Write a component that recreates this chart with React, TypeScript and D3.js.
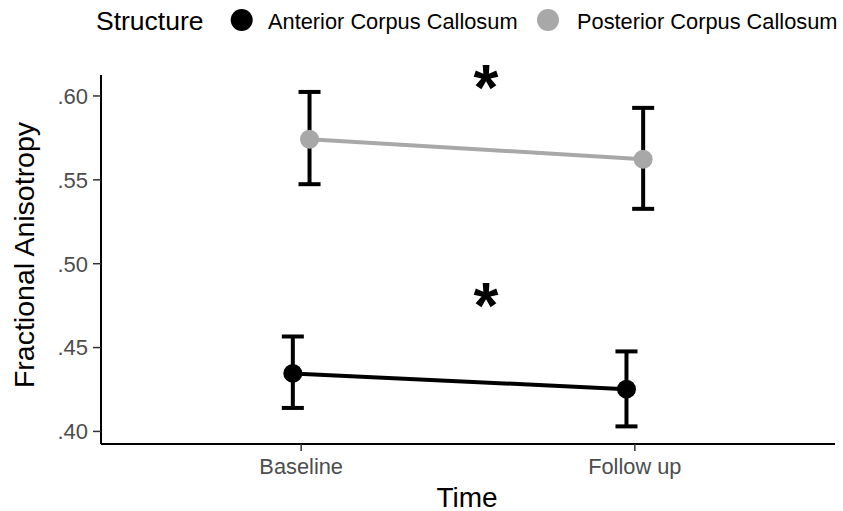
import React from "react";
import * as d3 from "d3";

// data
const times = ["Baseline", "Follow up"];
const structures = ["Anterior Corpus Callosum", "Posterior Corpus Callosum"];
const anteriorMean = [0.4346, 0.4252];
const anteriorLow = [0.414, 0.403];
const anteriorHigh = [0.4566, 0.4477];
const posteriorMean = [0.5742, 0.5623];
const posteriorLow = [0.5474, 0.5327];
const posteriorHigh = [0.6024, 0.5929];
const yTicks = [0.4, 0.45, 0.5, 0.55, 0.6];
const yTickLabels = [".40", ".45", ".50", ".55", ".60"];
// significance stars: position on time axis (1 = Baseline) and y value
const starPos = [1.554, 1.554];
const starY = [0.611, 0.481];

const W = 843, H = 511;
const margin = { top: 75, right: 8, bottom: 67, left: 101 };
const colors = ["#000000", "#a8a8a8"];
const font = "'Liberation Sans', Arial, sans-serif";

export default function App() {
  const x = d3.scalePoint().domain(times).range([margin.left, W - margin.right]).padding(0.6);
  const y = d3.scaleLinear().domain([0.3925, 0.6125]).range([H - margin.bottom, margin.top]);
  const step = x.step();
  const dodge = 0.025 * step;
  const capHalf = 0.033 * step;

  const series = [
    { name: structures[0], mean: anteriorMean, low: anteriorLow, high: anteriorHigh, color: colors[0], off: -dodge },
    { name: structures[1], mean: posteriorMean, low: posteriorLow, high: posteriorHigh, color: colors[1], off: dodge },
  ];

  const line = d3.line<number>()
    .x((_, i) => (x(times[i]) as number))
    .y((d) => y(d));

  const x0 = margin.left, x1 = W - margin.right;
  const yb = H - margin.bottom, yt = margin.top;

  return (
    <svg width={W} height={H} style={{ position: "absolute", left: 0, top: 0, background: "#fff" }} fontFamily={font}>
      {/* legend */}
      <text x={96} y={30} fontSize={26.5} fill="#000">Structure</text>
      <circle cx={241.7} cy={20} r={11} fill={colors[0]} />
      <text x={268} y={29} fontSize={21.8} fill="#000">{structures[0]}</text>
      <circle cx={548} cy={20} r={11} fill={colors[1]} />
      <text x={577} y={29} fontSize={21.8} fill="#000">{structures[1]}</text>

      {/* axes */}
      <line x1={x0} x2={x1} y1={yb} y2={yb} stroke="#000" strokeWidth={2} />
      <line x1={x0} x2={x0} y1={yt} y2={yb} stroke="#000" strokeWidth={2} />
      {yTicks.map((t, i) => (
        <g key={t}>
          <line x1={x0 - 8} x2={x0} y1={y(t)} y2={y(t)} stroke="#333" strokeWidth={1.5} />
          <text x={x0 - 13} y={y(t)} dy="0.36em" textAnchor="end" fontSize={22} fill="#4d4d4d">{yTickLabels[i]}</text>
        </g>
      ))}
      {times.map((t) => (
        <g key={t}>
          <line x1={x(t)} x2={x(t)} y1={yb} y2={yb + 7} stroke="#333" strokeWidth={1.5} />
          <text x={x(t)} y={474} textAnchor="middle" fontSize={21.8} fill="#4d4d4d">{t}</text>
        </g>
      ))}
      <text x={467} y={506.5} textAnchor="middle" fontSize={28} fill="#000">Time</text>
      <text transform="translate(33.5,255) rotate(-90)" textAnchor="middle" fontSize={28.5} fill="#000">Fractional Anisotropy</text>

      {/* series */}
      {series.map((s) => (
        <g key={s.name} transform={`translate(${s.off},0)`}>
          <path d={line(s.mean) || ""} fill="none" stroke={s.color} strokeWidth={4} />
          {s.mean.map((m, i) => {
            const cx = x(times[i]) as number;
            return (
              <g key={i} stroke="#000" strokeWidth={4}>
                <line x1={cx} x2={cx} y1={y(s.low[i])} y2={y(s.high[i])} />
                <line x1={cx - capHalf} x2={cx + capHalf} y1={y(s.low[i])} y2={y(s.low[i])} />
                <line x1={cx - capHalf} x2={cx + capHalf} y1={y(s.high[i])} y2={y(s.high[i])} />
              </g>
            );
          })}
          {s.mean.map((m, i) => (
            <circle key={i} cx={x(times[i]) as number} cy={y(m)} r={9.5} fill={s.color} />
          ))}
        </g>
      ))}

      {/* significance stars */}
      {starPos.map((p, i) => (
        <text key={i} x={(x(times[0]) as number) + (p - 1) * step} y={y(starY[i])} dy="0.5em"
          textAnchor="middle" fontSize={64} fontWeight="bold" fill="#000">*</text>
      ))}
    </svg>
  );
}
